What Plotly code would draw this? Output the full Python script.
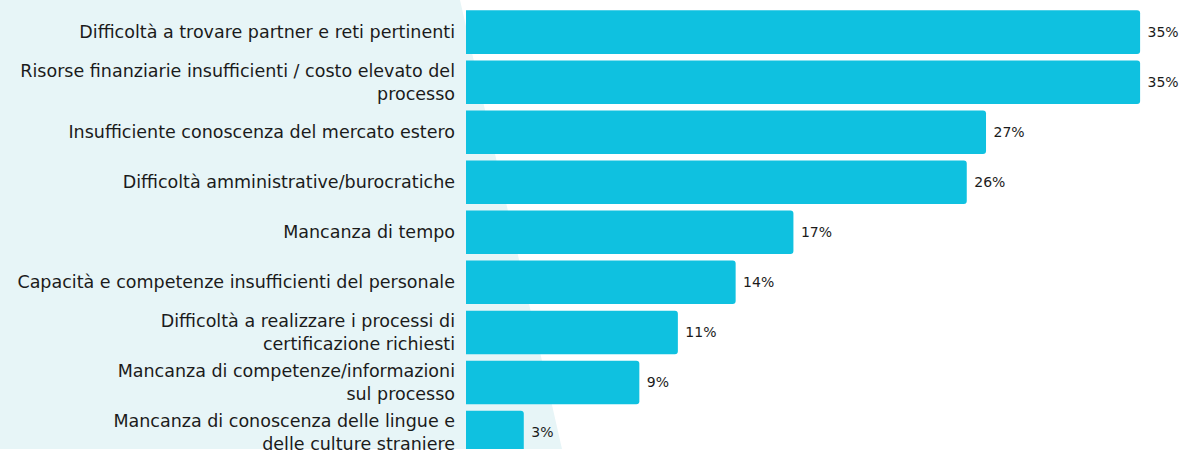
import plotly.graph_objects as go

categories = [
    "Difficoltà a trovare partner e reti pertinenti",
    "Risorse finanziarie insufficienti / costo elevato del<br>processo",
    "Insufficiente conoscenza del mercato estero",
    "Difficoltà amministrative/burocratiche",
    "Mancanza di tempo",
    "Capacità e competenze insufficienti del personale",
    "Difficoltà a realizzare i processi di<br>certificazione richiesti",
    "Mancanza di competenze/informazioni<br>sul processo",
    "Mancanza di conoscenza delle lingue e<br>delle culture straniere",
]
values = [35, 35, 27, 26, 17, 14, 11, 9, 3]
labels = [" 35%", " 35%", " 27%", " 26%", " 17%", " 14%", " 11%", " 9%", " 3%"]

W, H = 1183, 454
LEFT = 466
FONT = "DejaVu Sans"

fig = go.Figure(
    go.Bar(
        x=values,
        y=categories,
        orientation="h",
        marker=dict(color="#0FC1E0", line=dict(width=0)),
        text=labels,
        textposition="outside",
        textfont=dict(size=14, color="#1b1b1b", family=FONT),
        cliponaxis=False,
        hoverinfo="skip",
    )
)

# light tinted panel behind the category labels, with a slanted right edge
x0 = (460 - LEFT) / (W - LEFT)
x1 = (562 - LEFT) / (W - LEFT)
fig.add_shape(
    type="path",
    xref="paper", yref="paper",
    path=f"M -1,1 L {x0},1 L {x1},0 L -1,0 Z",
    fillcolor="#E7F5F7",
    line=dict(width=0),
    layer="below",
)

fig.update_layout(
    width=W, height=H,
    margin=dict(l=LEFT, r=0, t=0, b=0),
    paper_bgcolor="white",
    plot_bgcolor="rgba(0,0,0,0)",
    bargap=0.13,
    barcornerradius=3,
    showlegend=False,
    font=dict(family=FONT, color="#1b1b1b"),
)
fig.update_xaxes(range=[0, (W - LEFT) / 19.26], visible=False, fixedrange=True)
fig.update_yaxes(
    range=[8.33, -0.642],
    showgrid=False, zeroline=False, showline=False,
    ticks="", ticklabelstandoff=10,
    tickfont=dict(size=17.5, color="#1b1b1b", family=FONT),
    fixedrange=True,
)

fig.write_html("out.html", config={"displayModeBar": False})
